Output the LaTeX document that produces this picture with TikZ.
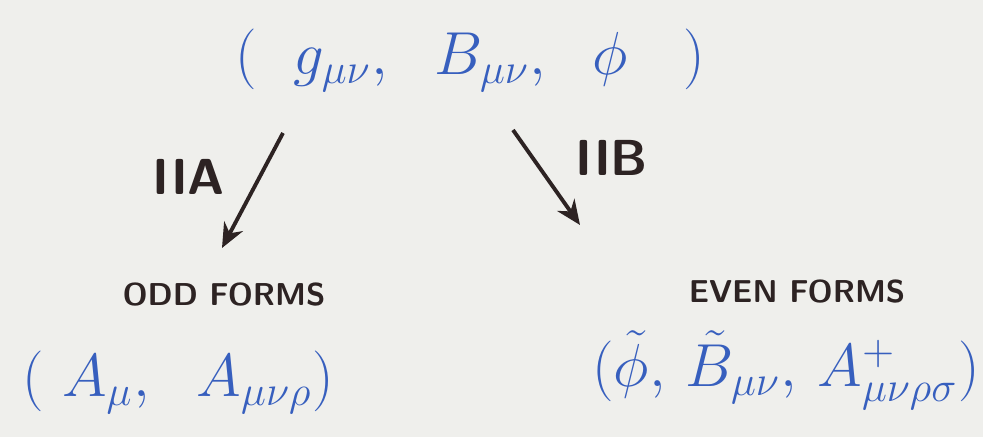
\documentclass[tikz,border=0pt]{standalone}
\usepackage{amsmath, amssymb}
\usepackage{tikz}
\usetikzlibrary{arrows.meta}

\definecolor{inkblue}{RGB}{55,95,190}
\definecolor{inkdark}{RGB}{45,35,35}
\definecolor{paper}{RGB}{239,239,236}

\begin{document}
\begin{tikzpicture}[
    field/.style={inkblue, font=\LARGE, inner sep=0pt},
    theory/.style={inkdark, font=\Large\sffamily\bfseries},
    formtag/.style={inkdark, font=\small\sffamily\bfseries},
    arr/.style={->, inkdark, line width=1.1pt, >={Stealth[length=7pt, width=6pt]}}
]
    % Paper
    \fill[paper] (0, 0) rectangle (9.83, 4.37);
    \useasboundingbox (0, 0) rectangle (9.83, 4.37);

    % Massless NS-NS fields
    \node[field] (nsns) at (4.70, 3.77) {$(\ \ g_{\mu\nu},\ \ B_{\mu\nu},\ \ \phi\ \ \ )$};

    % Type IIA branch
    \coordinate (lstart) at (2.83, 3.04);
    \coordinate (lend) at (2.22, 1.89);
    \draw[arr] (lstart) -- (lend);
    \node[theory] (iia) at (1.89, 2.60) {IIA};
    \node[formtag] (odd) at (2.24, 1.42) {ODD FORMS};
    \node[field] (rra) at (1.78, 0.55) {$(\ A_{\mu},\ \ A_{\mu\nu\rho})$};

    % Type IIB branch
    \coordinate (rstart) at (5.13, 3.07);
    \coordinate (rend) at (5.80, 2.12);
    \draw[arr] (rstart) -- (rend);
    \node[theory] (iib) at (6.12, 2.79) {IIB};
    \node[formtag] (even) at (7.97, 1.45) {EVEN FORMS};
    \node[field] (rrb) at (7.86, 0.67) {$(\tilde{\phi},\, \tilde{B}_{\mu\nu},\, A^{+}_{\mu\nu\rho\sigma})$};
\end{tikzpicture}
\end{document}
